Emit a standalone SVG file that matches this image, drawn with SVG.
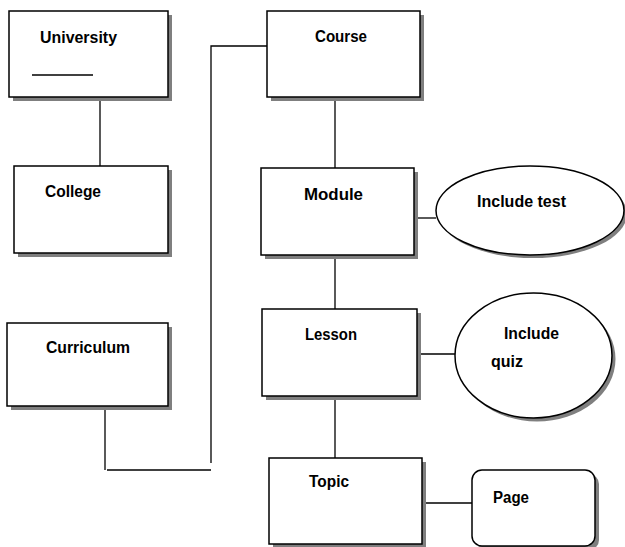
<svg xmlns="http://www.w3.org/2000/svg" width="625" height="547" viewBox="0 0 625 547">
<style>
.box{fill:#fff;stroke:#000;stroke-width:1.5}
.sh{fill:#7f7f7f;stroke:none}
.lbl{font-family:"Liberation Sans",Arial,sans-serif;font-weight:bold;font-size:16px;fill:#000}
.con{fill:none;stroke:#000;stroke-width:1.3}
</style>
<rect width="625" height="547" fill="#fff"/>
<g id="connectors">
<line class="con" x1="100" y1="100" x2="100" y2="166"/>
<polyline class="con" points="267,46 211,46 211,463"/>
<line class="con" x1="105" y1="410" x2="105" y2="470"/>
<line class="con" x1="107" y1="470" x2="211" y2="470"/>
<line class="con" x1="335" y1="100" x2="335" y2="168"/>
<line class="con" x1="335" y1="259" x2="335" y2="309"/>
<line class="con" x1="335" y1="400" x2="335" y2="458"/>
<line class="con" x1="418" y1="218" x2="436" y2="218"/>
<line class="con" x1="421" y1="354" x2="455" y2="354"/>
<line class="con" x1="426" y1="503" x2="472" y2="503"/>
</g>
<g id="university">
<rect class="sh" x="13" y="15" width="159" height="86"/>
<rect class="box" x="9" y="11" width="159" height="86"/>
<text class="lbl" x="40" y="43" textLength="77" lengthAdjust="spacingAndGlyphs">University</text>
<line x1="32" y1="75" x2="93" y2="75" stroke="#000" stroke-width="1.3"/>
</g>
<g id="college">
<rect class="sh" x="18" y="170" width="154" height="87"/>
<rect class="box" x="14" y="166" width="154" height="87"/>
<text class="lbl" x="45" y="197" textLength="56" lengthAdjust="spacingAndGlyphs">College</text>
</g>
<g id="curriculum">
<rect class="sh" x="11" y="327" width="161" height="83"/>
<rect class="box" x="7" y="323" width="161" height="83"/>
<text class="lbl" x="46" y="353" textLength="84" lengthAdjust="spacingAndGlyphs">Curriculum</text>
</g>
<g id="course">
<rect class="sh" x="271" y="15" width="153" height="86"/>
<rect class="box" x="267" y="11" width="153" height="86"/>
<text class="lbl" x="315" y="42" textLength="52" lengthAdjust="spacingAndGlyphs">Course</text>
</g>
<g id="module">
<rect class="sh" x="265" y="172" width="153" height="87"/>
<rect class="box" x="261" y="168" width="153" height="87"/>
<text class="lbl" x="304" y="200" textLength="59" lengthAdjust="spacingAndGlyphs">Module</text>
</g>
<g id="include-test">
<ellipse class="sh" cx="533" cy="214" rx="94" ry="44"/>
<ellipse class="box" cx="530" cy="210.5" rx="94" ry="44.5"/>
<text class="lbl" x="477" y="207" textLength="89" lengthAdjust="spacingAndGlyphs">Include test</text>
</g>
<g id="lesson">
<rect class="sh" x="266" y="313" width="155" height="87"/>
<rect class="box" x="262" y="309" width="155" height="87"/>
<text class="lbl" x="305" y="340" textLength="52" lengthAdjust="spacingAndGlyphs">Lesson</text>
</g>
<g id="include-quiz">
<ellipse class="sh" cx="537" cy="359" rx="78.5" ry="62.5"/>
<ellipse class="box" cx="533.5" cy="355.5" rx="78.5" ry="62.5"/>
<text class="lbl" x="504" y="339" textLength="55" lengthAdjust="spacingAndGlyphs">Include</text>
<text class="lbl" x="491" y="367" textLength="32" lengthAdjust="spacingAndGlyphs">quiz</text>
</g>
<g id="topic">
<rect class="sh" x="273" y="462" width="153" height="86"/>
<rect class="box" x="269" y="458" width="153" height="86"/>
<text class="lbl" x="309" y="487" textLength="40" lengthAdjust="spacingAndGlyphs">Topic</text>
</g>
<g id="page">
<rect class="sh" x="476" y="474" width="123" height="76" rx="10"/>
<rect class="box" x="472" y="470" width="123" height="76" rx="10"/>
<text class="lbl" x="493" y="503" textLength="36" lengthAdjust="spacingAndGlyphs">Page</text>
</g>
</svg>
